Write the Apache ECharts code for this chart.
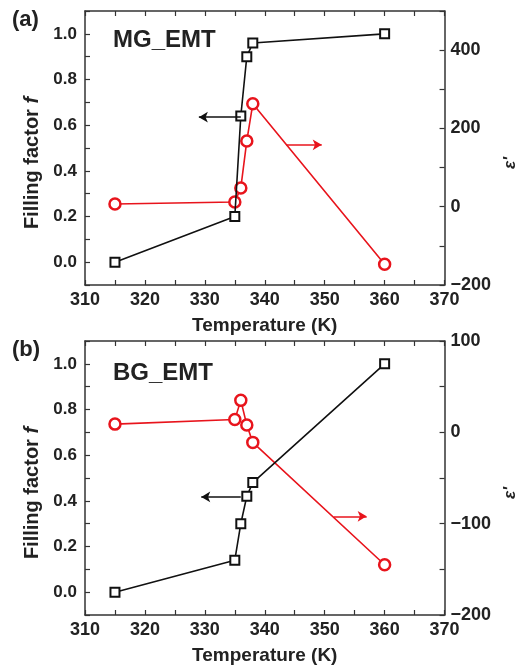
<!DOCTYPE html>
<html>
<head>
<meta charset="utf-8">
<script src="https://cdn.jsdelivr.net/npm/echarts@6/dist/echarts.min.js"></script>
<style>html,body{margin:0;padding:0;background:#fff;}#c{width:527px;height:671px;}</style>
</head>
<body>
<div id="c"></div>
<script>
// ---- data ----
const temps = [315, 335, 336, 337, 338, 360];
const fillMG = [0.0, 0.2, 0.64, 0.90, 0.96, 1.0];
const epsMG = [7, 12, 48, 168, 263, -147];
const fillBG = [0.0, 0.14, 0.30, 0.42, 0.48, 1.0];
const epsBG = [9, 14, 35, 8, -11, -145];

const xTickLabels = [310, 320, 330, 340, 350, 360, 370];
const fTickLabels = [0.0, 0.2, 0.4, 0.6, 0.8, 1.0];
const epsTickLabelsA = [-200, 0, 200, 400];
const epsTickLabelsB = [-200, -100, 0, 100];

// arrows (data units)
const arrowMGf = [[336, 0.635], [329, 0.635]];
const arrowMGeps = [[343.6, 158], [349.5, 158]];
const arrowBGf = [[336, 0.417], [329.4, 0.417]];
const arrowBGeps = [[351.5, -92], [357, -92]];

const FONT = 'Liberation Sans, Arial, sans-serif';
const AX = '#333';
const BLACK = '#111';
const RED = '#e8141c';

function has(list, v) { return list.some(t => Math.abs(t - v) < 1e-6); }

function xAxisPair(gi) {
  return [{
    type: 'value', gridIndex: gi, position: 'bottom', min: 310, max: 370, interval: 5,
    name: 'Temperature (K)', nameLocation: 'middle', nameGap: 31,
    nameTextStyle: { fontFamily: FONT, fontWeight: 'bold', fontSize: 19, color: '#222' },
    axisLine: { show: true, onZero: false, lineStyle: { color: AX, width: 1.5 } },
    axisTick: { show: true, inside: true, length: 5, lineStyle: { color: AX, width: 1.2 } },
    axisLabel: { fontFamily: FONT, fontWeight: 'bold', fontSize: 18, color: '#222', margin: 6,
      formatter: v => has(xTickLabels, v) ? String(v) : '' },
    splitLine: { show: false }
  }, {
    type: 'value', gridIndex: gi, position: 'top', min: 310, max: 370, interval: 5,
    axisLine: { show: true, onZero: false, lineStyle: { color: AX, width: 1.5 } },
    axisTick: { show: true, inside: true, length: 5, lineStyle: { color: AX, width: 1.2 } },
    axisLabel: { show: false }, splitLine: { show: false }
  }];
}

function yAxisPair(gi, emin, emax, eint, elabels) {
  return [{
    type: 'value', gridIndex: gi, position: 'left', min: -0.1, max: 1.1, interval: 0.1,
    name: '{a|Filling factor }{b|f}', nameLocation: 'middle', nameGap: 43, nameRotate: 90,
    nameTextStyle: { padding: [0, 30, 0, 0], rich: {
      a: { fontFamily: FONT, fontWeight: 'bold', fontSize: 20, color: '#222' },
      b: { fontFamily: FONT, fontWeight: 'bold', fontStyle: 'italic', fontSize: 20, color: '#222' } } },
    axisLine: { show: true, onZero: false, lineStyle: { color: AX, width: 1.5 } },
    axisTick: { show: true, inside: true, length: 5, lineStyle: { color: AX, width: 1.2 } },
    axisLabel: { fontFamily: FONT, fontWeight: 'bold', fontSize: 17, color: '#222', margin: 8,
      formatter: v => has(fTickLabels, v) ? v.toFixed(1) : '' },
    splitLine: { show: false }
  }, {
    type: 'value', gridIndex: gi, position: 'right', min: emin, max: emax, interval: eint,
    name: "ε'", nameLocation: 'middle', nameGap: 44, nameRotate: 90,
    nameTextStyle: { fontFamily: FONT, fontWeight: 'bold', fontStyle: 'italic', fontSize: 17, color: '#222', padding: [0, 30, 0, 0] },
    axisLine: { show: true, onZero: false, lineStyle: { color: AX, width: 1.5 } },
    axisTick: { show: true, inside: true, length: 5, lineStyle: { color: AX, width: 1.2 } },
    axisLabel: { fontFamily: FONT, fontWeight: 'bold', fontSize: 18, color: '#222', margin: 6,
      formatter: v => has(elabels, v) ? String(v).replace('-', '\u2212') : '' },
    splitLine: { show: false }
  }];
}

function arrowMark(color, pts) {
  return {
    silent: true, animation: false, symbol: ['none', 'arrow'], symbolSize: [8, 9],
    label: { show: false },
    lineStyle: { color: color, width: 1.6, type: 'solid' },
    emphasis: { disabled: true },
    data: [[{ coord: pts[0] }, { coord: pts[1] }]]
  };
}

function blackSeries(xi, yi, vals, arrow) {
  return {
    type: 'line', xAxisIndex: xi, yAxisIndex: yi,
    data: temps.map((t, i) => [t, vals[i]]),
    symbol: 'rect', symbolSize: 9, z: 3,
    lineStyle: { color: BLACK, width: 1.6 },
    itemStyle: { color: '#fff', borderColor: BLACK, borderWidth: 2 },
    markLine: arrowMark(BLACK, arrow)
  };
}
function redSeries(xi, yi, vals, arrow) {
  return {
    type: 'line', xAxisIndex: xi, yAxisIndex: yi,
    data: temps.map((t, i) => [t, vals[i]]),
    symbol: 'circle', symbolSize: 11, z: 2,
    lineStyle: { color: RED, width: 1.6 },
    itemStyle: { color: '#fff', borderColor: RED, borderWidth: 2.5 },
    markLine: arrowMark(RED, arrow)
  };
}

const chart = echarts.init(document.getElementById('c'));
chart.setOption({
  animation: false,
  backgroundColor: '#fff',
  grid: [
    { left: 85, top: 11, width: 387, height: 274 },
    { left: 85, top: 341, width: 387, height: 274 }
  ],
  xAxis: [...xAxisPair(0), ...xAxisPair(1)],
  yAxis: [...yAxisPair(0, -200, 500, 100, epsTickLabelsA), ...yAxisPair(1, -200, 100, 50, epsTickLabelsB)],
  series: [
    redSeries(0, 1, epsMG, arrowMGeps),
    blackSeries(0, 0, fillMG, arrowMGf),
    redSeries(2, 3, epsBG, arrowBGeps),
    blackSeries(2, 2, fillBG, arrowBGf)
  ],
  graphic: [
    { type: 'text', left: 12, top: 9, style: { text: '(a)', font: 'bold 22px ' + FONT, fill: '#222' } },
    { type: 'text', left: 113, top: 28, style: { text: 'MG_EMT', font: 'bold 24px ' + FONT, fill: '#222' } },
    { type: 'text', left: 12, top: 339, style: { text: '(b)', font: 'bold 22px ' + FONT, fill: '#222' } },
    { type: 'text', left: 113, top: 361, style: { text: 'BG_EMT', font: 'bold 24px ' + FONT, fill: '#222' } }
  ]
});
</script>
</body>
</html>
